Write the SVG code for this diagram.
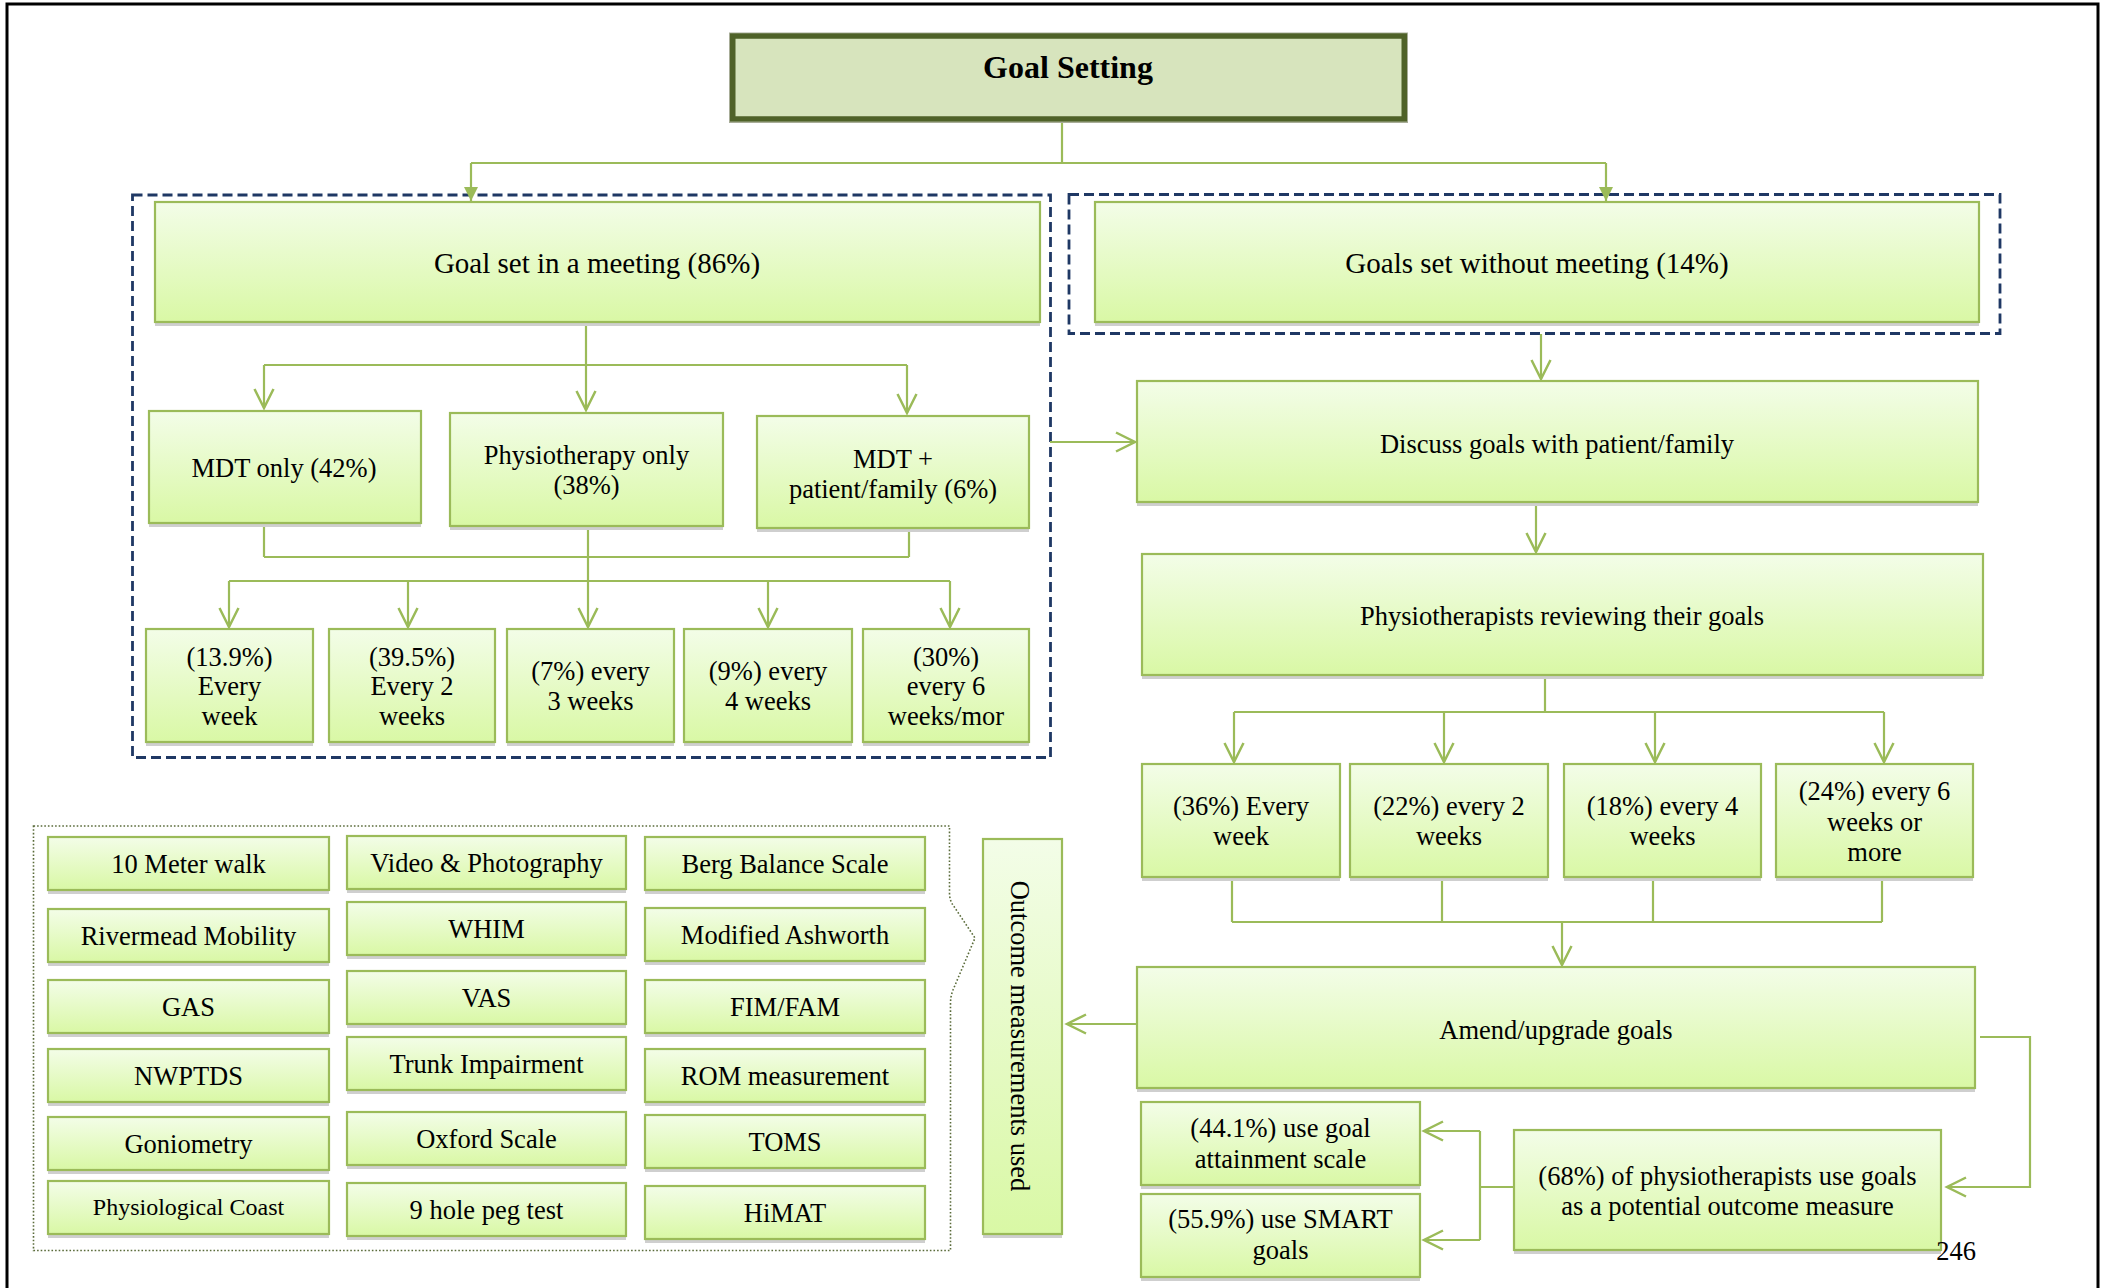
<svg xmlns="http://www.w3.org/2000/svg" width="2105" height="1288" viewBox="0 0 2105 1288">
  <defs>
    <linearGradient id="g" x1="0" y1="0" x2="0" y2="1">
      <stop offset="0" stop-color="#F3FDE8"/>
      <stop offset="1" stop-color="#D9F8A5"/>
    </linearGradient>
    <marker id="av" markerUnits="userSpaceOnUse" markerWidth="24" markerHeight="24" viewBox="0 0 24 24" refX="21" refY="12" orient="auto">
      <path d="M2,2.5 L21,12 L2,21.5" fill="none" stroke="#9BBB59" stroke-width="2.5"/>
    </marker>
    <marker id="af" markerUnits="userSpaceOnUse" markerWidth="16" markerHeight="16" viewBox="0 0 16 16" refX="14" refY="8" orient="auto">
      <path d="M0,1 L14,8 L0,15 z" fill="#9BBB59"/>
    </marker>
  </defs>
  <style>
    .sh { fill: #CFCFCF; }
    .box { fill: url(#g); stroke: #9BBB59; stroke-width: 2.2; }
    .t { font-family: "Liberation Serif", "Times New Roman", serif; font-size: 26.5px; text-anchor: middle; fill: #000; }
    .big { font-size: 29px; }
    .grp { fill: none; stroke: #1F3864; stroke-width: 2.8; stroke-dasharray: 10 5; }
    .c { fill: none; stroke: #9BBB59; stroke-width: 2.2; }
    .a { marker-end: url(#av); }
    .af { marker-end: url(#af); }
  </style>

  <rect x="0" y="0" width="2105" height="1288" fill="#FFFFFF"/>
  <!-- page frame -->
  <rect x="7" y="4" width="2091" height="1300" fill="none" stroke="#000" stroke-width="3"/>

  <!-- group outlines -->
  <rect class="grp" x="132.5" y="195" width="918" height="562.5"/>
  <rect class="grp" x="1069" y="194.5" width="931" height="139"/>
  <path d="M33.5,826 H949.5 V893 Q949.5,900 953,905 L975,938 L953,990 Q950.5,996 950.5,1004 V1250.5 H33.5 Z" fill="none" stroke="#5A6B3A" stroke-width="1.6" stroke-dasharray="1.6 2"/>

  <!-- connectors -->
  <g id="connectors">
    <path class="c" d="M1062,122 V163 M471,163 H1606"/>
    <path class="c af" d="M471,163 V201"/>
    <path class="c af" d="M1606,163 V201"/>

    <path class="c" d="M586,322 V365 M264,365 H907"/>
    <path class="c a" d="M264,365 V408"/>
    <path class="c a" d="M586,365 V410"/>
    <path class="c a" d="M907,365 V413"/>

    <path class="c" d="M264,523 V557 M588,526 V581 M909,528 V557 M264,557 H909 M229,581 H950"/>
    <path class="c a" d="M229,581 V627"/>
    <path class="c a" d="M408,581 V627"/>
    <path class="c a" d="M588,581 V627"/>
    <path class="c a" d="M768,581 V627"/>
    <path class="c a" d="M950,581 V627"/>

    <path class="c a" d="M1050,442 H1135"/>
    <path class="c a" d="M1541,334 V379"/>
    <path class="c a" d="M1536,503 V552"/>

    <path class="c" d="M1545,675 V712 M1234,712 H1884"/>
    <path class="c a" d="M1234,712 V762"/>
    <path class="c a" d="M1444,712 V762"/>
    <path class="c a" d="M1655,712 V762"/>
    <path class="c a" d="M1884,712 V762"/>

    <path class="c" d="M1232,877 V922 M1442,877 V922 M1653,877 V922 M1882,877 V922 M1232,922 H1882"/>
    <path class="c a" d="M1562,922 V965"/>

    <path class="c a" d="M1141,1024 H1067"/>
    <path class="c a" d="M1980,1037 H2030 V1187 H1947"/>

    <path class="c" d="M1514,1187 H1480 M1480,1131 V1240"/>
    <path class="c a" d="M1480,1131 H1424"/>
    <path class="c a" d="M1480,1240 H1424"/>
  </g>

  <!-- root -->
  <g id="goal-setting">
    <rect x="729.5" y="33" width="678" height="89.5" fill="none" stroke="#A8AD98" stroke-width="1"/>
    <rect x="732.75" y="36" width="671.5" height="83" fill="#D7E4BD" stroke="#4F6228" stroke-width="5.5"/>
    <text class="t" x="1068" y="78" style="font-size:32px;font-weight:bold">Goal Setting</text>
  </g>

  <g id="meeting">
    <rect class="sh" x="155" y="206" width="885" height="120"/>
    <rect class="box" x="155" y="202" width="885" height="120"/>
    <text class="t big" x="597" y="273">Goal set in a meeting (86%)</text>
  </g>
  <g id="no-meeting">
    <rect class="sh" x="1095" y="206" width="884" height="120"/>
    <rect class="box" x="1095" y="202" width="884" height="120"/>
    <text class="t big" x="1537" y="273">Goals set without meeting (14%)</text>
  </g>

  <g id="mdt-only">
    <rect class="sh" x="149" y="415" width="272" height="112"/>
    <rect class="box" x="149" y="411" width="272" height="112"/>
    <text class="t" x="284" y="477">MDT only (42%)</text>
  </g>
  <g id="physio-only">
    <rect class="sh" x="450" y="417" width="273" height="113"/>
    <rect class="box" x="450" y="413" width="273" height="113"/>
    <text class="t" x="586.5" y="463.5">Physiotherapy only</text>
    <text class="t" x="586.5" y="493.5">(38%)</text>
  </g>
  <g id="mdt-family">
    <rect class="sh" x="757" y="420" width="272" height="112"/>
    <rect class="box" x="757" y="416" width="272" height="112"/>
    <text class="t" x="893" y="467.5">MDT +</text>
    <text class="t" x="893" y="497.5">patient/family (6%)</text>
  </g>

  <g id="m-week1">
    <rect class="sh" x="146" y="633" width="167" height="113"/>
    <rect class="box" x="146" y="629" width="167" height="113"/>
    <text class="t" x="229.5" y="666">(13.9%)</text>
    <text class="t" x="229.5" y="695">Every</text>
    <text class="t" x="229.5" y="725">week</text>
  </g>
  <g id="m-week2">
    <rect class="sh" x="329" y="633" width="166" height="113"/>
    <rect class="box" x="329" y="629" width="166" height="113"/>
    <text class="t" x="412" y="666">(39.5%)</text>
    <text class="t" x="412" y="695">Every 2</text>
    <text class="t" x="412" y="725">weeks</text>
  </g>
  <g id="m-week3">
    <rect class="sh" x="507" y="633" width="167" height="113"/>
    <rect class="box" x="507" y="629" width="167" height="113"/>
    <text class="t" x="590.5" y="680">(7%) every</text>
    <text class="t" x="590.5" y="710">3 weeks</text>
  </g>
  <g id="m-week4">
    <rect class="sh" x="684" y="633" width="168" height="113"/>
    <rect class="box" x="684" y="629" width="168" height="113"/>
    <text class="t" x="768" y="680">(9%) every</text>
    <text class="t" x="768" y="710">4 weeks</text>
  </g>
  <g id="m-week6">
    <rect class="sh" x="863" y="633" width="166" height="113"/>
    <rect class="box" x="863" y="629" width="166" height="113"/>
    <text class="t" x="946" y="666">(30%)</text>
    <text class="t" x="946" y="695">every 6</text>
    <text class="t" x="946" y="725">weeks/mor</text>
  </g>

  <g id="discuss">
    <rect class="sh" x="1137" y="385" width="841" height="121"/>
    <rect class="box" x="1137" y="381" width="841" height="121"/>
    <text class="t" x="1557" y="452.5">Discuss goals with patient/family</text>
  </g>
  <g id="reviewing">
    <rect class="sh" x="1142" y="558" width="841" height="121"/>
    <rect class="box" x="1142" y="554" width="841" height="121"/>
    <text class="t" x="1562" y="624.5">Physiotherapists reviewing their goals</text>
  </g>

  <g id="r-week1">
    <rect class="sh" x="1142" y="768" width="198" height="113"/>
    <rect class="box" x="1142" y="764" width="198" height="113"/>
    <text class="t" x="1241" y="815">(36%) Every</text>
    <text class="t" x="1241" y="845">week</text>
  </g>
  <g id="r-week2">
    <rect class="sh" x="1350" y="768" width="198" height="113"/>
    <rect class="box" x="1350" y="764" width="198" height="113"/>
    <text class="t" x="1449" y="815">(22%) every 2</text>
    <text class="t" x="1449" y="845">weeks</text>
  </g>
  <g id="r-week4">
    <rect class="sh" x="1564" y="768" width="197" height="113"/>
    <rect class="box" x="1564" y="764" width="197" height="113"/>
    <text class="t" x="1662.5" y="815">(18%) every 4</text>
    <text class="t" x="1662.5" y="845">weeks</text>
  </g>
  <g id="r-week6">
    <rect class="sh" x="1776" y="768" width="197" height="113"/>
    <rect class="box" x="1776" y="764" width="197" height="113"/>
    <text class="t" x="1874.5" y="800">(24%) every 6</text>
    <text class="t" x="1874.5" y="831">weeks or</text>
    <text class="t" x="1874.5" y="861">more</text>
  </g>

  <g id="amend">
    <rect class="sh" x="1137" y="971" width="838" height="121"/>
    <rect class="box" x="1137" y="967" width="838" height="121"/>
    <text class="t" x="1556" y="1038.5">Amend/upgrade goals</text>
  </g>
  <g id="outcome-measure">
    <rect class="sh" x="1514" y="1134" width="427" height="120"/>
    <rect class="box" x="1514" y="1130" width="427" height="120"/>
    <text class="t" x="1727.5" y="1185">(68%) of physiotherapists use goals</text>
    <text class="t" x="1727.5" y="1215">as a potential outcome measure</text>
  </g>
  <g id="gas-use">
    <rect class="sh" x="1141" y="1106" width="279" height="83"/>
    <rect class="box" x="1141" y="1102" width="279" height="83"/>
    <text class="t" x="1280.5" y="1137">(44.1%) use goal</text>
    <text class="t" x="1280.5" y="1168">attainment scale</text>
  </g>
  <g id="smart-use">
    <rect class="sh" x="1141" y="1198" width="279" height="83"/>
    <rect class="box" x="1141" y="1194" width="279" height="83"/>
    <text class="t" x="1280.5" y="1228">(55.9%) use SMART</text>
    <text class="t" x="1280.5" y="1259">goals</text>
  </g>

  <g id="outcome-used">
    <rect class="sh" x="983" y="843" width="79" height="395"/>
    <rect class="box" x="983" y="839" width="79" height="395"/>
    <text class="t" transform="translate(1020,1036) rotate(90)" dominant-baseline="central">Outcome measurements used</text>
  </g>

  <!-- outcome measures grid -->
  <g id="m-10mw"><rect class="sh" x="48" y="841" width="281" height="53"/><rect class="box" x="48" y="837" width="281" height="53"/><text class="t" x="188.5" y="873">10 Meter walk</text></g>
  <g id="m-rivermead"><rect class="sh" x="48" y="913" width="281" height="53"/><rect class="box" x="48" y="909" width="281" height="53"/><text class="t" x="188.5" y="945">Rivermead Mobility</text></g>
  <g id="m-gas"><rect class="sh" x="48" y="984" width="281" height="53"/><rect class="box" x="48" y="980" width="281" height="53"/><text class="t" x="188.5" y="1016">GAS</text></g>
  <g id="m-nwptds"><rect class="sh" x="48" y="1053" width="281" height="53"/><rect class="box" x="48" y="1049" width="281" height="53"/><text class="t" x="188.5" y="1085">NWPTDS</text></g>
  <g id="m-goniometry"><rect class="sh" x="48" y="1121" width="281" height="53"/><rect class="box" x="48" y="1117" width="281" height="53"/><text class="t" x="188.5" y="1153">Goniometry</text></g>
  <g id="m-physcoast"><rect class="sh" x="48" y="1185" width="281" height="53"/><rect class="box" x="48" y="1181" width="281" height="53"/><text class="t" x="188.5" y="1215" style="font-size:24px">Physiological Coast</text></g>

  <g id="m-video"><rect class="sh" x="347" y="840" width="279" height="53"/><rect class="box" x="347" y="836" width="279" height="53"/><text class="t" x="486.5" y="872">Video &amp; Photography</text></g>
  <g id="m-whim"><rect class="sh" x="347" y="906" width="279" height="53"/><rect class="box" x="347" y="902" width="279" height="53"/><text class="t" x="486.5" y="938">WHIM</text></g>
  <g id="m-vas"><rect class="sh" x="347" y="975" width="279" height="53"/><rect class="box" x="347" y="971" width="279" height="53"/><text class="t" x="486.5" y="1007">VAS</text></g>
  <g id="m-trunk"><rect class="sh" x="347" y="1041" width="279" height="53"/><rect class="box" x="347" y="1037" width="279" height="53"/><text class="t" x="486.5" y="1073">Trunk Impairment</text></g>
  <g id="m-oxford"><rect class="sh" x="347" y="1116" width="279" height="53"/><rect class="box" x="347" y="1112" width="279" height="53"/><text class="t" x="486.5" y="1148">Oxford Scale</text></g>
  <g id="m-peg"><rect class="sh" x="347" y="1187" width="279" height="53"/><rect class="box" x="347" y="1183" width="279" height="53"/><text class="t" x="486.5" y="1219">9 hole peg test</text></g>

  <g id="m-berg"><rect class="sh" x="645" y="841" width="280" height="53"/><rect class="box" x="645" y="837" width="280" height="53"/><text class="t" x="785" y="873">Berg Balance Scale</text></g>
  <g id="m-ashworth"><rect class="sh" x="645" y="912" width="280" height="53"/><rect class="box" x="645" y="908" width="280" height="53"/><text class="t" x="785" y="944">Modified Ashworth</text></g>
  <g id="m-fim"><rect class="sh" x="645" y="984" width="280" height="53"/><rect class="box" x="645" y="980" width="280" height="53"/><text class="t" x="785" y="1016">FIM/FAM</text></g>
  <g id="m-rom"><rect class="sh" x="645" y="1053" width="280" height="53"/><rect class="box" x="645" y="1049" width="280" height="53"/><text class="t" x="785" y="1085">ROM measurement</text></g>
  <g id="m-toms"><rect class="sh" x="645" y="1119" width="280" height="53"/><rect class="box" x="645" y="1115" width="280" height="53"/><text class="t" x="785" y="1151">TOMS</text></g>
  <g id="m-himat"><rect class="sh" x="645" y="1190" width="280" height="53"/><rect class="box" x="645" y="1186" width="280" height="53"/><text class="t" x="785" y="1222">HiMAT</text></g>

  <text class="t" x="1956" y="1260">246</text>
</svg>
